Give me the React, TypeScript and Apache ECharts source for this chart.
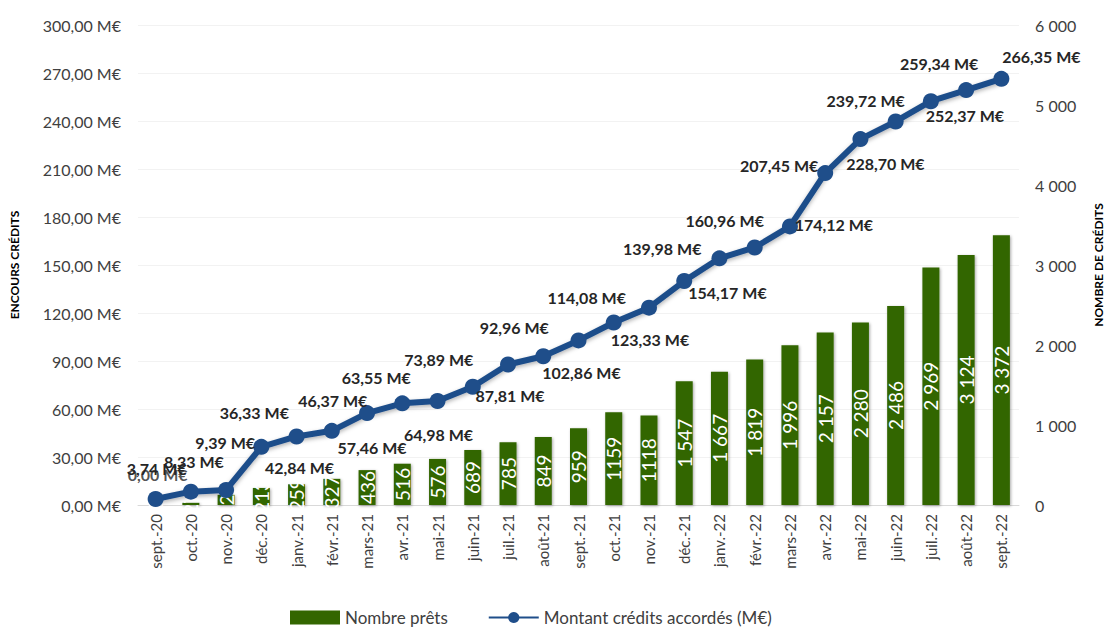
import React, { useEffect, useRef } from "react";
import * as echarts from "echarts";

const categories = [
  "sept.-20", "oct.-20", "nov.-20", "déc.-20", "janv.-21", "févr.-21", "mars-21",
  "avr.-21", "mai-21", "juin-21", "juil.-21", "août-21", "sept.-21", "oct.-21",
  "nov.-21", "déc.-21", "janv.-22", "févr.-22", "mars-22", "avr.-22", "mai-22",
  "juin-22", "juil.-22", "août-22", "sept.-22",
];

const nombrePrets = [
  0, 27, 127, 213, 259, 327, 436, 516, 576, 689, 785, 849, 959, 1159, 1118,
  1547, 1667, 1819, 1996, 2157, 2280, 2486, 2969, 3124, 3372,
];

const montantCredits = [
  3.74, 8.33, 9.39, 36.33, 42.84, 46.37, 57.46, 63.55, 64.98, 73.89, 87.81,
  92.96, 102.86, 114.08, 123.33, 139.98, 154.17, 160.96, 174.12, 207.45,
  228.7, 239.72, 252.37, 259.34, 266.35,
];

// Extra overlapping label drawn at the first month
const extraLabelValue = [0];

const leftTicks = { min: 0, max: 300, interval: 30 };
const rightTicks = { min: 0, max: 6000, interval: 1000 };

// label offsets (px) of the line labels relative to their point
const labelOffsets: [number, number][] = [
  [1, -31], [3, -30], [-1, -47], [-7, -34], [3, 31], [1, -30], [5, 34],
  [-26, -26], [1, 33], [-34, -27], [2, 31], [-29, -29], [3, 32], [-27, -25],
  [1, 32], [-22, -33], [8, 34], [-30, -27], [44, -2], [-46, -8], [25, 24],
  [-30, -21], [34, 14], [-27, -27], [40, -22],
];

const FONT = "Lato, 'Open Sans', sans-serif";

const fmtEuro = (v: number) => v.toFixed(2).replace(".", ",") + " M€";
const fmtSpace = (v: number) =>
  String(Math.round(v)).replace(/\B(?=(\d{3})+(?!\d))/g, " ");
const fmtBar = (v: number) => (v >= 1500 ? fmtSpace(v) : String(v));

export default function App() {
  const ref = useRef<HTMLDivElement>(null);

  useEffect(() => {
    document.body.style.margin = "0";
    if (!ref.current) return;
    const chart = echarts.init(ref.current, null, { renderer: "svg" });

    const lineData = montantCredits.map((v, i) => ({
      value: v,
      label: { offset: labelOffsets[i] },
    }));

    const option: any = {
      animation: false,
      backgroundColor: "#ffffff",
      textStyle: { fontFamily: FONT },
      grid: { left: 137, right: 85, top: 25, bottom: 122, containLabel: false },
      legend: {
        data: [
          { name: "Nombre prêts", icon: "rect" },
          { name: "Montant crédits accordés (M€)" },
        ],
        left: 285,
        top: 604,
        itemWidth: 50,
        itemHeight: 14,
        itemGap: 40,
        textStyle: { fontSize: 17, color: "#404040", fontFamily: FONT },
      },
      xAxis: {
        type: "category",
        data: categories,
        axisTick: { show: false },
        axisLine: { lineStyle: { color: "#d9d9d9", width: 1 } },
        axisLabel: {
          rotate: 90,
          fontSize: 15,
          color: "#404040",
          margin: 9,
          fontFamily: FONT,
          interval: 0,
        },
      },
      yAxis: [
        {
          type: "value",
          min: leftTicks.min,
          max: leftTicks.max,
          interval: leftTicks.interval,
          position: "left",
          name: "ENCOURS CRÉDITS",
          nameLocation: "middle",
          nameRotate: 90,
          nameGap: 118,
          nameTextStyle: { fontSize: 12, fontWeight: "bold", color: "#000", fontFamily: FONT },
          axisLine: { show: false },
          axisTick: { show: false },
          axisLabel: {
            formatter: fmtEuro,
            fontSize: 16,
            color: "#404040",
            margin: 17,
            fontFamily: FONT,
          },
          splitLine: { lineStyle: { color: "#f2f2f2", width: 1 } },
        },
        {
          type: "value",
          min: rightTicks.min,
          max: rightTicks.max,
          interval: rightTicks.interval,
          position: "right",
          name: "NOMBRE DE CRÉDITS",
          nameLocation: "middle",
          nameRotate: 90,
          nameGap: 73,
          nameTextStyle: { fontSize: 12, fontWeight: "bold", color: "#000", fontFamily: FONT },
          axisLine: { show: false },
          axisTick: { show: false },
          axisLabel: {
            formatter: (v: number) => fmtSpace(v),
            fontSize: 16,
            color: "#404040",
            margin: 16,
            fontFamily: FONT,
          },
          splitLine: { show: false },
        },
      ],
      series: [
        {
          name: "Nombre prêts",
          type: "bar",
          yAxisIndex: 1,
          data: nombrePrets,
          barWidth: 17,
          itemStyle: {
            color: "#336600",
            shadowBlur: 3,
            shadowColor: "rgba(0,0,0,0.35)",
            shadowOffsetX: 1,
            shadowOffsetY: 1,
          },
          label: {
            show: true,
            position: "inside",
            rotate: 90,
            color: "#ffffff",
            fontSize: 19,
            fontFamily: FONT,
            formatter: (p: any) => fmtBar(p.value),
          },
          z: 2,
        },
        {
          name: "Montant crédits accordés (M€)",
          type: "line",
          yAxisIndex: 0,
          data: lineData,
          symbol: "circle",
          symbolSize: 16,
          lineStyle: {
            color: "#1f4e8a",
            width: 6,
            shadowBlur: 4,
            shadowColor: "rgba(0,0,0,0.3)",
            shadowOffsetY: 2,
          },
          itemStyle: { color: "#1f4e8a" },
          label: {
            show: true,
            position: "inside",
            align: "center",
            verticalAlign: "middle",
            fontSize: 16,
            fontWeight: "bold",
            color: "#262626",
            fontFamily: FONT,
            formatter: (p: any) => fmtEuro(p.value),
          },
          z: 3,
        },
        {
          name: "extra",
          type: "scatter",
          yAxisIndex: 0,
          data: extraLabelValue,
          symbolSize: 1,
          itemStyle: { color: "rgba(0,0,0,0)" },
          label: {
            show: true,
            position: "inside",
            offset: [2, -31],
            fontSize: 16,
            fontWeight: "bold",
            color: "#262626",
            fontFamily: FONT,
            formatter: (p: any) => fmtEuro(p.value),
          },
          z: 4,
        },
      ],
    };

    chart.setOption(option);
    return () => chart.dispose();
  }, []);

  return <div ref={ref} style={{ width: 1112, height: 627 }} />;
}
